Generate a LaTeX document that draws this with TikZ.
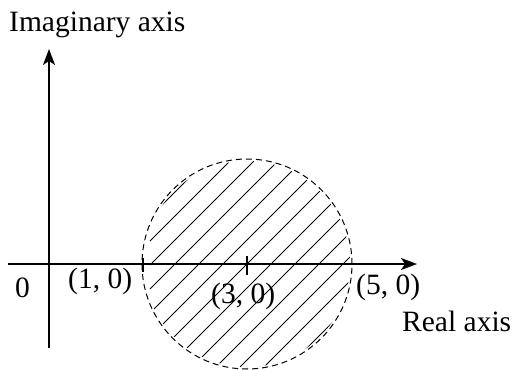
\documentclass[tikz,border=0pt]{standalone}
\usepackage{fontspec}
\setmainfont{Liberation Serif}
\usetikzlibrary{arrows.meta}
\begin{document}
\begin{tikzpicture}[x=1pt,y=-1pt,
  axis/.style={line width=1.4pt,-{Stealth[length=16pt,width=12pt,inset=4pt]}},
  lbl/.style={anchor=base west,inner sep=0pt,font=\fontsize{29.5}{34}\selectfont},
  hatch/.style={line width=1pt},
  rim/.style={line width=1pt,dash pattern=on 6pt off 4pt},
  tick/.style={line width=1.4pt}]
\useasboundingbox (0,0) rectangle (513,369);
\coordinate (xs) at (8,264);
\coordinate (xe) at (417,264);
\coordinate (ys) at (49,348);
\coordinate (ye) at (49,49);
\coordinate (c) at (247,264);
% hatching
\begin{scope}
  \clip (c) circle[radius=103pt];
  \foreach \k in {-6,...,6}{
    \pgfmathsetmacro{\s}{511+24*\k}
    \draw[hatch] (\s-150,150) -- (150,\s-150);
  }
\end{scope}
\draw[rim] (c) circle[radius=105pt];
\draw[axis] (xs) -- (xe);
\draw[axis] (ys) -- (ye);
\coordinate (t1a) at (143,258);
\coordinate (t1b) at (143,272);
\coordinate (t3a) at (247,256);
\coordinate (t3b) at (247,275);
\draw[tick] (t1a) -- (t1b);
\draw[tick] (t3a) -- (t3b);
\node[lbl] (im) at (9,31) {Imaginary axis};
\node[lbl] (o) at (15,297) {0};
\node[lbl] (p1) at (68,288) {(1, 0)};
\node[lbl] (p3) at (211,303) {(3, 0)};
\node[lbl] (p5) at (356,294) {(5, 0)};
\node[lbl] (re) at (402,331) {Real axis};
\end{tikzpicture}
\end{document}
